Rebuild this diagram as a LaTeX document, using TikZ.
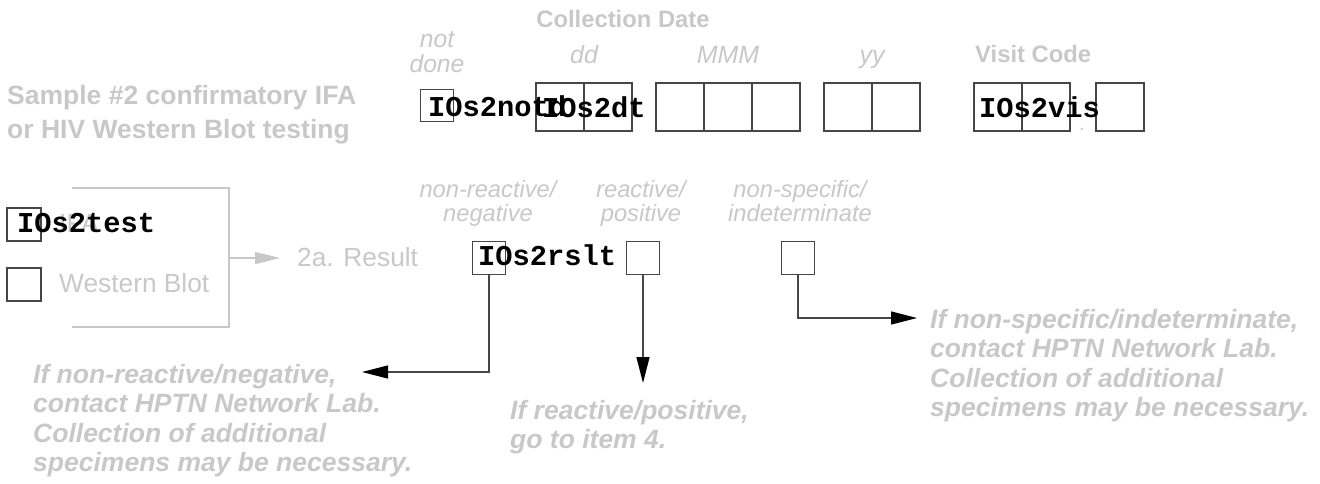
\documentclass[tikz,border=0pt]{standalone}
\usepackage{fontspec}
\setmainfont{Liberation Sans}
\setmonofont{Liberation Mono}
\usetikzlibrary{arrows.meta}
\definecolor{lg}{RGB}{200,200,200}
\definecolor{ln}{RGB}{70,70,70}
\newcommand\fsz[2]{\fontsize{#1pt}{#2pt}\selectfont}
\begin{document}
\begin{tikzpicture}[x=1pt,y=-1pt,
  lbl/.style={inner sep=0pt,anchor=base west,text=lg},
  boldlbl/.style={lbl,font=\bfseries\fsz{23.8}{28}},
  itlbl/.style={lbl,anchor=base,font=\itshape\fsz{25}{25}},
  reslbl/.style={lbl,anchor=base,font=\itshape\fsz{23.7}{23}},
  reglbl/.style={lbl,font=\fsz{26.3}{30}},
  note/.style={lbl,font=\bfseries\itshape\fsz{26.5}{29.5}},
  code/.style={inner sep=0pt,anchor=base west,text=black,font=\ttfamily\bfseries\fsz{28.75}{30}},
  sbox/.style={draw=ln,line width=1.2pt,inner sep=0pt,minimum width=32.5pt,minimum height=32.5pt},
  bbox/.style={draw=ln,line width=1.2pt,inner sep=0pt,minimum width=48pt,minimum height=48pt},
  conn/.style={draw=ln,line width=1.3pt},
  tip/.style={-{Triangle[length=26pt,width=13pt,color=black]}},
  gline/.style={draw=lg,line width=1.2pt},
  gtip/.style={-{Triangle[length=25pt,width=12pt,color=lg]}}
]
\useasboundingbox (0,0) rectangle (1320,483);

% ---- header labels
\node[lbl,font=\bfseries\fsz{26.5}{34}] (sample) at (7,104)
  {\begin{tabular}[t]{@{}l@{}}Sample \#2 confirmatory IFA\\or HIV Western Blot testing\end{tabular}};
\node[boldlbl,anchor=base] (colldate) at (623,27) {Collection Date};
\node[itlbl,font=\itshape\fsz{24.7}{25}] (notdone) at (437,47)
  {\begin{tabular}[t]{@{}c@{}}not\\done\end{tabular}};
\node[itlbl] (ddl) at (584,63) {dd};
\node[itlbl] (mmml) at (728,63) {MMM};
\node[itlbl] (yyl) at (872,63) {yy};
\node[boldlbl] (visitl) at (975,62) {Visit Code};

% ---- header boxes
\node[sbox] (nd) at (437,105.5) {};
\node[bbox] (d1) at (560,107) {};
\node[bbox] (d2) at (608,107) {};
\node[bbox] (m1) at (680,107) {};
\node[bbox] (m2) at (728,107) {};
\node[bbox] (m3) at (776,107) {};
\node[bbox] (y1) at (848,107) {};
\node[bbox] (y2) at (896,107) {};
\node[bbox] (v1) at (998,107) {};
\node[bbox] (v2) at (1046,107) {};
\node[bbox] (v3) at (1120,107) {};
\node[lbl,anchor=base,font=\fsz{20}{24}] (vdot) at (1082,130) {.};

\node[code] (ndcode) at (428,116) {IOs2notd};
\node[code] (dtcode) at (542,117) {IOs2dt};
\node[code] (viscode) at (979,117) {IOs2vis};

% ---- test type
\coordinate (bt) at (72,188);
\coordinate (bb) at (72,327);
\coordinate (bmid) at (229,258);
\draw[gline] (bt) -- (229,188) -- (229,327) -- (bb);
\node[sbox,minimum width=34pt,minimum height=33pt] (ifab) at (24,224.5) {};
\node[sbox,minimum width=34pt,minimum height=33pt] (wbb) at (24,284.5) {};
\node[reglbl] (ifal) at (59,232) {IFA};
\node[reglbl] (wbl) at (59,292) {Western Blot};
\node[code] (testcode) at (17,232) {IOs2test};
\node[reglbl] (result) at (297,266) {2a. Result};
\coordinate (rtip) at (280,258);
\draw[gline,gtip] (bmid) -- (rtip);

% ---- result
\node[reslbl] (neg) at (488,197) {\begin{tabular}[t]{@{}c@{}}non-reactive/\\negative\end{tabular}};
\node[reslbl] (pos) at (641,197) {\begin{tabular}[t]{@{}c@{}}reactive/\\positive\end{tabular}};
\node[reslbl] (ind) at (800,197) {\begin{tabular}[t]{@{}c@{}}non-specific/\\indeterminate\end{tabular}};
\node[sbox] (r1) at (489,258) {};
\node[sbox] (r2) at (643,258) {};
\node[sbox] (r3) at (798,258) {};
\node[code] (rsltcode) at (478,265) {IOs2rslt};

\coordinate (tipL) at (362,372);
\coordinate (tipD) at (643,383);
\coordinate (tipR) at (917,318);
\draw[conn,tip] (r1.south) |- (tipL);
\draw[conn,tip] (r2.south) -- (tipD);
\draw[conn,tip] (r3.south) |- (tipR);

% ---- notes
\node[note] (noteL) at (33,383) {\begin{tabular}[t]{@{}l@{}}If non-reactive/negative,\\contact HPTN Network Lab.\\Collection of additional\\specimens may be necessary.\end{tabular}};
\node[note] (noteM) at (510,419) {\begin{tabular}[t]{@{}l@{}}If reactive/positive,\\go to item 4.\end{tabular}};
\node[note] (noteR) at (930,328) {\begin{tabular}[t]{@{}l@{}}If non-specific/indeterminate,\\contact HPTN Network Lab.\\Collection of additional\\specimens may be necessary.\end{tabular}};
\end{tikzpicture}
\end{document}
